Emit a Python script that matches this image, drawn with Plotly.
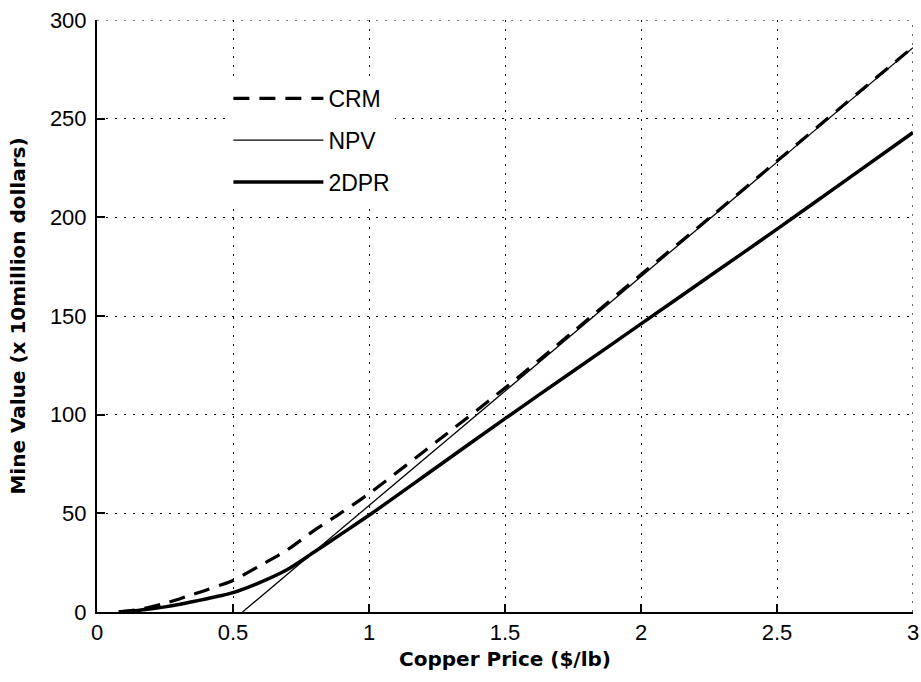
import plotly.graph_objects as go

# Copper price ($/lb)
crm_x = [0.08, 0.1, 0.15, 0.2, 0.25, 0.3, 0.35, 0.4, 0.45, 0.5, 0.6, 0.7, 0.8, 0.9, 1.0,
         1.25, 1.5, 1.75, 2.0, 2.25, 2.5, 2.75, 3.0]
crm_y = [0, 0.3, 1.2, 2.6, 4.4, 6.5, 8.8, 11, 13.4, 16, 23.5, 31.5, 41.5, 50.5, 60,
         86.5, 113.5, 142, 171, 199.5, 228.5, 257.5, 286.3]

npv_x = [0.535, 1.0, 1.5, 2.0, 2.5, 3.0]
npv_y = [0, 54, 112, 170, 228, 286]

dpr_x = [0.08, 0.1, 0.15, 0.2, 0.25, 0.3, 0.35, 0.4, 0.45, 0.5, 0.6, 0.7, 0.8, 0.9, 1.0,
         1.25, 1.5, 1.75, 2.0, 2.25, 2.5, 2.75, 3.0]
dpr_y = [0, 0.2, 0.8, 1.6, 2.6, 3.8, 5.2, 6.6, 8.1, 9.8, 15, 21.5, 30.5, 39.7, 49,
         73.5, 98, 122, 146, 170, 194, 218.5, 243]

x_ticks = [0, 0.5, 1, 1.5, 2, 2.5, 3]
x_tick_labels = ["0", "0.5", "1", "1.5", "2", "2.5", "3"]
y_ticks = [0, 50, 100, 150, 200, 250, 300]
y_tick_labels = ["0", "50", "100", "150", "200", "250", "300"]

fig = go.Figure()
fig.add_trace(go.Scatter(x=crm_x, y=crm_y, mode="lines", name="CRM", legendgroup="a",
                         line=dict(color="black", width=3.2, dash="16px,10px",
                                   shape="spline", smoothing=0.8)))
fig.add_trace(go.Scatter(x=npv_x, y=npv_y, mode="lines", name="NPV", legendgroup="b",
                         line=dict(color="black", width=1.3)))
fig.add_trace(go.Scatter(x=dpr_x, y=dpr_y, mode="lines", name="2DPR", legendgroup="c",
                         line=dict(color="black", width=3.5, shape="spline", smoothing=0.8)))

tick_font = dict(family="Liberation Sans, Arial, sans-serif", size=22, color="black")
title_font = dict(family="DejaVu Sans, sans-serif", size=20, color="black")
grid_dash = "2px,7px"

fig.update_layout(
    width=921, height=682,
    margin=dict(l=97, r=8, t=20, b=70, autoexpand=False),
    paper_bgcolor="white", plot_bgcolor="white",
    showlegend=True,
    legend=dict(x=0.161, y=0.904, xanchor="left", yanchor="top",
                bgcolor="white", borderwidth=0, itemwidth=90,
                tracegroupgap=9, traceorder="grouped",
                font=dict(family="Liberation Sans, Arial, sans-serif", size=23, color="black")),
    shapes=[
        dict(type="line", xref="paper", yref="y", x0=0, x1=1, y0=y_ticks[-1], y1=y_ticks[-1],
             line=dict(color="black", width=1.2, dash=grid_dash), layer="below"),
        dict(type="line", xref="x", yref="paper", x0=x_ticks[-1], x1=x_ticks[-1], y0=0, y1=1,
             line=dict(color="black", width=1.2, dash=grid_dash), layer="below"),
    ],
)
fig.update_xaxes(
    range=[0, 3], tickvals=x_ticks, ticktext=x_tick_labels, automargin=False,
    ticklabeloverflow="allow",
    showline=True, linecolor="black", linewidth=2, mirror=False,
    ticks="inside", ticklen=8, tickwidth=1.5, tickcolor="black",
    showgrid=True, gridcolor="black", gridwidth=1.2, griddash=grid_dash,
    zeroline=False, tickfont=tick_font,
    title=dict(text="<b>Copper Price ($/lb)</b>", font=title_font, standoff=8),
)
fig.update_yaxes(
    range=[0, 300], tickvals=y_ticks, ticktext=y_tick_labels, automargin=False,
    ticklabeloverflow="allow",
    showline=True, linecolor="black", linewidth=2, mirror=False,
    ticks="inside", ticklen=8, tickwidth=1.5, tickcolor="black",
    showgrid=True, gridcolor="black", gridwidth=1.2, griddash=grid_dash,
    zeroline=False, tickfont=tick_font, ticklabelstandoff=4,
    title=dict(text="<b>Mine Value (x 10million dollars)</b>", font=title_font, standoff=19),
)

# remove the default page margin so the 921x682 figure fills the window exactly
fig.write_html("out.html",
               config={"displayModeBar": False},
               post_script="document.body.style.margin='0';document.body.style.overflow='hidden';")
